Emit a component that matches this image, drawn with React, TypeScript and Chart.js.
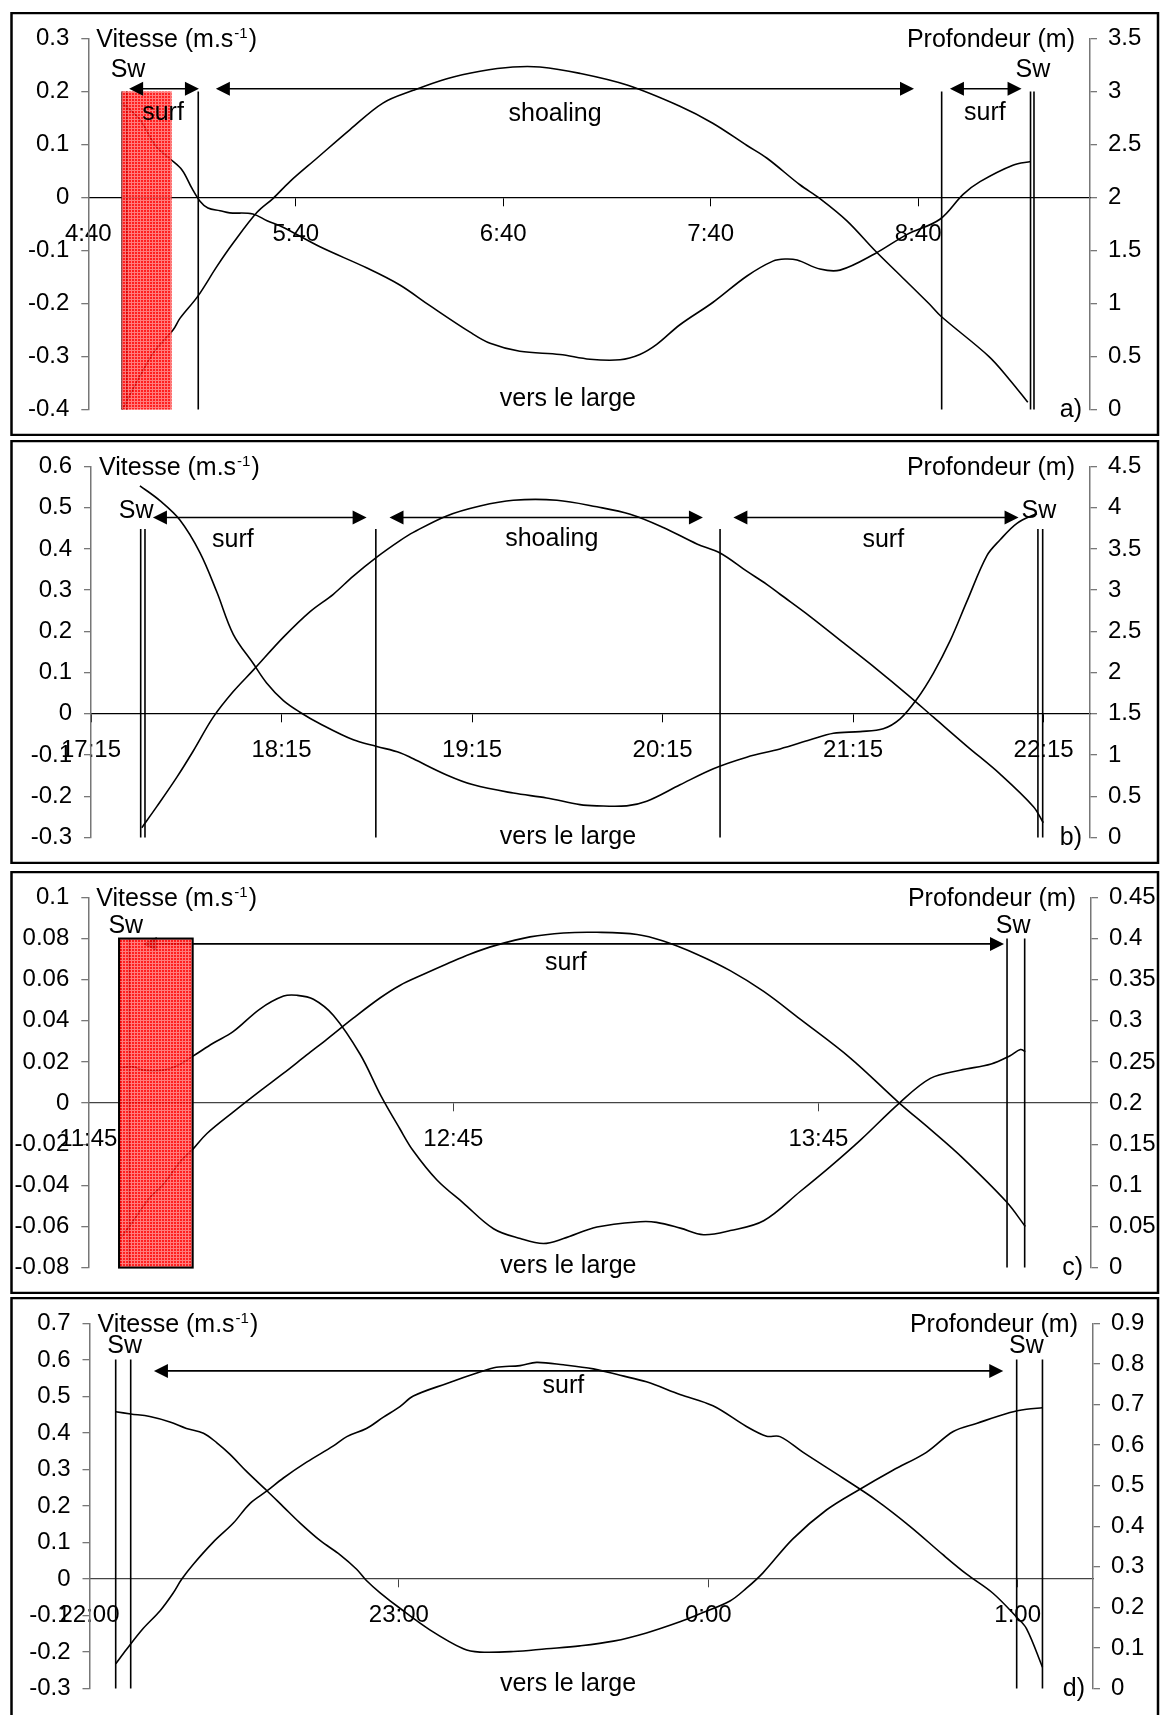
import React, { useEffect, useRef } from "react";
import { Chart, registerables } from "chart.js";

Chart.register(...registerables);

const FONT = "'Liberation Sans', Arial, Helvetica, sans-serif";

// ---------------- Panel a) ----------------
const timeLabelsA = ["4:40", "5:40", "6:40", "7:40", "8:40"];
const timeTicksA = [0, 60, 120, 180, 240];
const leftTicksA = [-0.4, -0.3, -0.2, -0.1, 0, 0.1, 0.2, 0.3];
const rightTicksA = [0, 0.5, 1, 1.5, 2, 2.5, 3, 3.5];
const tVelA = [9.8, 14.9, 19.3, 23.6, 27.1, 30.0, 32.3, 34.6, 38.1, 40.9, 47.6, 51.7, 56.3, 67.0, 80.6, 90.1, 98.8, 110.4, 116.2, 124.8, 136.4, 145.1, 153.8, 159.5, 164.4, 171.1, 180.6, 190.5, 198.0, 201.5, 205.0, 211.6, 217.4, 227.5, 236.7, 246.3, 253.0, 257.9, 267.4, 272.6];
const velA = [0.178, 0.147, 0.099, 0.073, 0.052, 0.017, -0.007, -0.02, -0.025, -0.029, -0.031, -0.044, -0.056, -0.093, -0.133, -0.165, -0.204, -0.254, -0.275, -0.29, -0.296, -0.305, -0.306, -0.296, -0.277, -0.24, -0.198, -0.148, -0.12, -0.116, -0.118, -0.135, -0.137, -0.106, -0.07, -0.041, 0.006, 0.03, 0.061, 0.068];
const tDepA = [9.8, 18.7, 24.5, 26.5, 31.7, 37.2, 41.9, 48.8, 53.4, 58.3, 66.1, 75.7, 85.2, 94.0, 103.7, 113.3, 122.8, 130.6, 142.2, 155.8, 171.1, 180.6, 190.5, 196.3, 205.8, 211.6, 219.4, 227.5, 235.0, 243.1, 246.6, 260.5, 266.5, 271.7];
const depA = [0.0, 0.53, 0.75, 0.86, 1.07, 1.35, 1.57, 1.86, 1.99, 2.15, 2.37, 2.64, 2.89, 3.01, 3.12, 3.19, 3.23, 3.23, 3.17, 3.06, 2.86, 2.7, 2.49, 2.37, 2.12, 1.99, 1.78, 1.5, 1.26, 1.0, 0.88, 0.5, 0.28, 0.07];
const vlinesA = [9.8, 11.1, 31.8, 246.8, 272.5, 273.5];
const arrowsA = [[11.8, 32.0], [36.9, 238.8], [249.2, 269.9]];
const textsA: [string, number, number][] = [["Sw", 11.5, 0.228], ["surf", 21.6, 0.147], ["shoaling", 135, 0.145], ["surf", 259.3, 0.147], ["Sw", 273.2, 0.228], ["vers le large", 138.7, -0.394]];

// ---------------- Panel b) ----------------
const timeLabelsB = ["17:15", "18:15", "19:15", "20:15", "21:15", "22:15"];
const timeTicksB = [0, 60, 120, 180, 240, 300];
const leftTicksB = [-0.3, -0.2, -0.1, 0, 0.1, 0.2, 0.3, 0.4, 0.5, 0.6];
const rightTicksB = [0, 0.5, 1, 1.5, 2, 2.5, 3, 3.5, 4, 4.5];
const tVelB = [15.4, 21.7, 28.0, 34.3, 39.6, 44.8, 51.1, 55.3, 60.6, 65.8, 72.1, 82.6, 90.0, 97.3, 101.5, 112.0, 120.4, 133.0, 143.5, 154.0, 159.3, 168.7, 175.0, 185.5, 196.0, 206.5, 217.0, 226.5, 233.8, 242.2, 249.5, 254.8, 260.1, 265.3, 270.6, 275.8, 282.1, 286.3, 291.6, 297.9];
const velB = [0.553, 0.517, 0.47, 0.391, 0.296, 0.193, 0.122, 0.075, 0.032, 0.004, -0.024, -0.063, -0.079, -0.094, -0.109, -0.148, -0.172, -0.192, -0.204, -0.22, -0.223, -0.223, -0.212, -0.172, -0.133, -0.105, -0.085, -0.063, -0.047, -0.043, -0.036, -0.012, 0.036, 0.099, 0.178, 0.272, 0.383, 0.422, 0.462, 0.486];
const tDepB = [16.0, 20.7, 27.0, 32.2, 38.5, 44.8, 51.1, 60.6, 69.0, 76.3, 82.6, 90.0, 97.3, 101.5, 112.0, 122.5, 133.0, 146.7, 159.3, 169.8, 180.2, 190.8, 198.1, 206.5, 212.8, 217.0, 226.5, 237.0, 247.5, 256.9, 265.3, 275.8, 286.3, 296.8, 299.9];
const depB = [0.12, 0.375, 0.73, 1.05, 1.46, 1.77, 2.03, 2.43, 2.74, 2.95, 3.17, 3.4, 3.6, 3.7, 3.9, 4.02, 4.09, 4.09, 4.01, 3.92, 3.76, 3.56, 3.45, 3.23, 3.07, 2.95, 2.68, 2.36, 2.04, 1.74, 1.46, 1.11, 0.77, 0.375, 0.18];
const vlinesB = [15.65, 17.0, 89.7, 198.1, 298.2, 299.7];
const arrowsB = [[19.5, 86.8], [94.0, 192.7], [202.3, 292.1]];
const textsB: [string, number, number][] = [["Sw", 14.2, 0.476], ["surf", 44.7, 0.405], ["shoaling", 145.1, 0.406], ["surf", 249.5, 0.405], ["Sw", 298.5, 0.476], ["vers le large", 150.2, -0.315]];

// ---------------- Panel c) ----------------
const timeLabelsC = ["11:45", "12:45", "13:45"];
const timeTicksC = [0, 60, 120];
const leftTicksC = [-0.08, -0.06, -0.04, -0.02, 0, 0.02, 0.04, 0.06, 0.08, 0.1];
const rightTicksC = [0, 0.05, 0.1, 0.15, 0.2, 0.25, 0.3, 0.35, 0.4, 0.45];
const tVelC = [5.5, 7.4, 9.0, 12.3, 14.5, 17.2, 20.5, 23.8, 28.2, 32.1, 34.3, 37.0, 40.3, 44.7, 48.1, 51.2, 53.4, 57.3, 61.6, 66.6, 71.0, 74.8, 78.1, 83.6, 90.7, 93.4, 97.3, 101.1, 105.5, 111.0, 117.0, 121.9, 126.9, 133.3, 138.4, 143.3, 148.4, 151.5, 153.2, 154.0];
const velC = [0.0173, 0.0176, 0.016, 0.016, 0.018, 0.0228, 0.0291, 0.0347, 0.0457, 0.052, 0.0524, 0.0505, 0.0426, 0.0236, 0.0035, -0.0125, -0.0232, -0.0374, -0.0485, -0.0611, -0.0659, -0.0683, -0.0659, -0.0603, -0.0577, -0.058, -0.0608, -0.064, -0.062, -0.0572, -0.043, -0.031, -0.018, 0.0, 0.012, 0.016, 0.019, 0.023, 0.026, 0.025];
const tDepC = [5.5, 7.4, 10.1, 12.3, 15.1, 17.2, 19.5, 23.8, 28.2, 32.1, 35.9, 39.2, 43.6, 48.0, 51.2, 55.1, 58.9, 62.7, 67.1, 72.6, 78.1, 83.6, 90.2, 94.5, 100.0, 105.5, 111.0, 117.0, 125.2, 133.3, 138.4, 143.6, 150.9, 154.0];
const depC = [0.0376, 0.057, 0.085, 0.1008, 0.1286, 0.144, 0.163, 0.189, 0.2145, 0.2363, 0.2585, 0.2775, 0.3035, 0.328, 0.343, 0.3565, 0.369, 0.381, 0.392, 0.402, 0.4068, 0.4076, 0.405, 0.397, 0.381, 0.361, 0.3357, 0.302, 0.255, 0.2, 0.168, 0.134, 0.08, 0.05];
const vlinesC = [5.2, 6.74, 151.0, 153.9];
const arrowsC = [[8.94, 150.5]];
const textsC: [string, number, number][] = [["Sw", 6.16, 0.0829], ["surf", 78.5, 0.0646], ["Sw", 152.0, 0.0829], ["vers le large", 78.9, -0.0825]];

// ---------------- Panel d) ----------------
const timeLabelsD = ["22:00", "23:00", "0:00", "1:00"];
const timeTicksD = [0, 60, 120, 180];
const leftTicksD = [-0.3, -0.2, -0.1, 0, 0.1, 0.2, 0.3, 0.4, 0.5, 0.6, 0.7];
const rightTicksD = [0, 0.1, 0.2, 0.3, 0.4, 0.5, 0.6, 0.7, 0.8, 0.9];
const tVelD = [5.1, 8.0, 11.7, 15.6, 18.8, 22.1, 24.7, 27.2, 30.5, 34.4, 37.6, 40.8, 44.7, 48.6, 51.8, 53.7, 56.3, 60.2, 66.0, 72.5, 75.7, 82.2, 88.6, 95.1, 101.6, 108.0, 114.5, 118.4, 124.2, 127.4, 130.6, 136.4, 142.9, 149.4, 155.8, 162.3, 167.5, 172.0, 178.5, 181.7, 184.8];
const velD = [0.458, 0.452, 0.445, 0.43, 0.4125, 0.3994, 0.373, 0.342, 0.294, 0.2417, 0.1977, 0.1538, 0.1057, 0.0663, 0.0268, -0.004, -0.037, -0.08, -0.139, -0.191, -0.2, -0.1985, -0.191, -0.183, -0.17, -0.1475, -0.117, -0.095, -0.06, -0.025, 0.017, 0.11, 0.189, 0.246, 0.298, 0.347, 0.404, 0.426, 0.456, 0.465, 0.469];
const tDepD = [5.1, 7.2, 10.4, 13.7, 16.2, 17.9, 20.1, 24.0, 27.9, 31.1, 34.4, 37.6, 42.1, 47.3, 49.9, 53.7, 57.0, 60.2, 62.8, 69.3, 75.7, 78.9, 83.5, 86.7, 91.9, 97.7, 102.9, 108.0, 114.5, 120.9, 127.4, 131.3, 133.9, 138.4, 146.1, 152.6, 159.1, 165.5, 170.1, 175.2, 179.8, 181.7, 184.8];
const depD = [0.0615, 0.097, 0.148, 0.192, 0.235, 0.27, 0.306, 0.361, 0.408, 0.456, 0.487, 0.519, 0.558, 0.598, 0.621, 0.641, 0.669, 0.695, 0.721, 0.752, 0.78, 0.792, 0.796, 0.804, 0.798, 0.788, 0.772, 0.756, 0.725, 0.697, 0.646, 0.622, 0.621, 0.582, 0.519, 0.464, 0.4, 0.33, 0.282, 0.235, 0.176, 0.148, 0.053];
const vlinesD = [5.08, 7.99, 179.8, 184.8];
const arrowsD = [[12.5, 177.2]];
const textsD: [string, number, number][] = [["Sw", 6.8, 0.62], ["surf", 91.9, 0.51], ["Sw", 181.7, 0.62], ["vers le large", 92.8, -0.307]];

type PanelDef = {
  letter: string;
  canvasTop: number; canvasH: number; frameTop: number; frameBottom: number;
  plotTop: number; plotBottom: number; leftPx: number; rightPx: number;
  xMax: number; timeTicks: number[]; timeLabels: string[];
  leftTicks: number[]; rightTicks: number[];
  tVel: number[]; vel: number[]; tDep: number[]; dep: number[];
  vlines: number[]; lineTop: number; arrows: number[][]; arrowY: number;
  texts: [string, number, number][];
  box: null | { x1: number; x2: number; top: number; border: boolean };
  arrowsOnTop: boolean; zeroColor: string;
};

const panels: PanelDef[] = [
  {
    letter: "a)", canvasTop: 12, canvasH: 424, frameTop: 13, frameBottom: 435,
    plotTop: 34.3, plotBottom: 412.3, leftPx: 88.3, rightPx: 1090, xMax: 289.7,
    timeTicks: timeTicksA, timeLabels: timeLabelsA, leftTicks: leftTicksA, rightTicks: rightTicksA,
    tVel: tVelA, vel: velA, tDep: tDepA, dep: depA,
    vlines: vlinesA, lineTop: 0.2, arrows: arrowsA, arrowY: 0.205, texts: textsA,
    box: { x1: 9.66, x2: 24.1, top: 0.2, border: false }, arrowsOnTop: true, zeroColor: "#000",
  },
  {
    letter: "b)", canvasTop: 440, canvasH: 424, frameTop: 441, frameBottom: 863,
    plotTop: 461.7, plotBottom: 841.7, leftPx: 91, rightPx: 1090, xMax: 314.6,
    timeTicks: timeTicksB, timeLabels: timeLabelsB, leftTicks: leftTicksB, rightTicks: rightTicksB,
    tVel: tVelB, vel: velB, tDep: tDepB, dep: depB,
    vlines: vlinesB, lineTop: 0.448, arrows: arrowsB, arrowY: 0.476, texts: textsB,
    box: null, arrowsOnTop: true, zeroColor: "#000",
  },
  {
    letter: "c)", canvasTop: 871, canvasH: 423, frameTop: 872, frameBottom: 1293,
    plotTop: 892.3, plotBottom: 1271.7, leftPx: 88.3, rightPx: 1091, xMax: 164.8,
    timeTicks: timeTicksC, timeLabels: timeLabelsC, leftTicks: leftTicksC, rightTicks: rightTicksC,
    tVel: tVelC, vel: velC, tDep: tDepC, dep: depC,
    vlines: vlinesC, lineTop: 0.08, arrows: arrowsC, arrowY: 0.0774, texts: textsC,
    box: { x1: 5.05, x2: 17.16, top: 0.08, border: true }, arrowsOnTop: false, zeroColor: "#444",
  },
  {
    letter: "d)", canvasTop: 1297, canvasH: 418, frameTop: 1298, frameBottom: 1722,
    plotTop: 1319, plotBottom: 1699.3, leftPx: 89.5, rightPx: 1093, xMax: 194.6,
    timeTicks: timeTicksD, timeLabels: timeLabelsD, leftTicks: leftTicksD, rightTicks: rightTicksD,
    tVel: tVelD, vel: velD, tDep: tDepD, dep: depD,
    vlines: vlinesD, lineTop: 0.601, arrows: arrowsD, arrowY: 0.57, texts: textsD,
    box: null, arrowsOnTop: true, zeroColor: "#444",
  },
];

const fmt = (v: number) => String(Number(v.toFixed(2)));

function redPattern(ctx: CanvasRenderingContext2D) {
  const tile = document.createElement("canvas");
  tile.width = 3; tile.height = 3;
  const t = tile.getContext("2d")!;
  t.fillStyle = "#ff0000"; t.fillRect(0, 0, 3, 3);
  t.fillStyle = "#ff6a6a"; t.fillRect(0, 2, 3, 1); t.fillRect(2, 0, 1, 3);
  return ctx.createPattern(tile, "repeat");
}

function PanelChart({ p }: { p: PanelDef }) {
  const ref = useRef<HTMLCanvasElement>(null);
  useEffect(() => {
    const canvas = ref.current!;
    const off = p.canvasTop;
    const drawArrow = (ctx: CanvasRenderingContext2D, x1: number, x2: number, y: number) => {
      const hl = 14, hw = 7;
      ctx.lineWidth = 1.6;
      ctx.beginPath(); ctx.moveTo(x1 + hl - 1, y); ctx.lineTo(x2 - hl + 1, y); ctx.stroke();
      ctx.beginPath(); ctx.moveTo(x1, y); ctx.lineTo(x1 + hl, y - hw); ctx.lineTo(x1 + hl, y + hw); ctx.closePath(); ctx.fill();
      ctx.beginPath(); ctx.moveTo(x2, y); ctx.lineTo(x2 - hl, y - hw); ctx.lineTo(x2 - hl, y + hw); ctx.closePath(); ctx.fill();
    };
    const plugin = {
      id: "annot",
      beforeDraw(chart: any) {
        const ctx = chart.ctx;
        ctx.save(); ctx.fillStyle = "#fff"; ctx.fillRect(0, 0, chart.width, chart.height); ctx.restore();
      },
      afterDatasetsDraw(chart: any) {
        const ctx: CanvasRenderingContext2D = chart.ctx;
        const xs = chart.scales.x, ys = chart.scales.y;
        const X = (v: number) => xs.getPixelForValue(v);
        const Y = (v: number) => ys.getPixelForValue(v);
        const ca = chart.chartArea;
        ctx.save();
        ctx.strokeStyle = "#000"; ctx.fillStyle = "#000"; ctx.lineWidth = 1.6;
        for (const v of p.vlines) {
          const px = X(v);
          ctx.beginPath(); ctx.moveTo(px, Y(p.lineTop)); ctx.lineTo(px, ca.bottom); ctx.stroke();
        }
        const yA = Y(p.arrowY);
        if (!p.arrowsOnTop) for (const [a, b] of p.arrows) drawArrow(ctx, X(a), X(b), yA);
        if (p.box) {
          const bx1 = X(p.box.x1), bx2 = X(p.box.x2), by = Y(p.box.top);
          ctx.save();
          ctx.globalAlpha = 0.88;
          ctx.fillStyle = redPattern(ctx) as any;
          ctx.fillRect(bx1, by, bx2 - bx1, ca.bottom - by);
          ctx.restore();
          if (p.box.border) {
            ctx.lineWidth = 2;
            ctx.strokeRect(bx1, by, bx2 - bx1, ca.bottom - by);
          }
        }
        ctx.strokeStyle = "#000"; ctx.fillStyle = "#000";
        if (p.arrowsOnTop) for (const [a, b] of p.arrows) drawArrow(ctx, X(a), X(b), yA);
        ctx.font = `25px ${FONT}`;
        ctx.textAlign = "center"; ctx.textBaseline = "alphabetic";
        for (const [txt, tx, ty] of p.texts) ctx.fillText(txt, X(tx), Y(ty));
        // axis titles
        ctx.textAlign = "left";
        let x = ca.left + 8;
        const base = ca.top + 8.5;
        ctx.fillText("Vitesse (m.s", x, base);
        x += ctx.measureText("Vitesse (m.s").width + 1;
        ctx.font = `15px ${FONT}`;
        ctx.fillText("-1", x, base - 9);
        x += ctx.measureText("-1").width + 1;
        ctx.font = `25px ${FONT}`;
        ctx.fillText(")", x, base);
        ctx.textAlign = "right";
        ctx.fillText("Profondeur (m)", ca.right - 15, base);
        ctx.fillText(p.letter, ca.right - 8, ca.bottom + 7);
        ctx.restore();
      },
      afterDraw(chart: any) {
        const ctx: CanvasRenderingContext2D = chart.ctx;
        ctx.save();
        ctx.strokeStyle = "#000"; ctx.lineWidth = 2.5;
        ctx.strokeRect(11.5, p.frameTop - off, 1146.5, p.frameBottom - p.frameTop);
        ctx.restore();
      },
    };
    const tickFont = { family: FONT, size: 24 };
    const chart = new Chart(canvas, {
      type: "line",
      data: {
        datasets: [
          {
            label: "Vitesse", yAxisID: "y",
            data: p.tVel.map((t, i) => ({ x: t, y: p.vel[i] })),
            borderColor: "#000", borderWidth: 1.6, pointRadius: 0, tension: 0.35, fill: false,
          },
          {
            label: "Profondeur", yAxisID: "y1",
            data: p.tDep.map((t, i) => ({ x: t, y: p.dep[i] })),
            borderColor: "#000", borderWidth: 1.6, pointRadius: 0, tension: 0.35, fill: false,
          },
        ],
      },
      options: {
        responsive: false,
        animation: false,
        devicePixelRatio: 1,
        events: [],
        layout: { padding: { top: p.plotTop - off, bottom: off + p.canvasH - p.plotBottom, left: 0, right: 0 } },
        plugins: { legend: { display: false }, tooltip: { enabled: false } },
        scales: {
          x: {
            type: "linear", min: 0, max: p.xMax, position: { y: 0 } as any,
            afterBuildTicks: (s: any) => { s.ticks = p.timeTicks.map((v) => ({ value: v })); },
            ticks: {
              autoSkip: false, maxRotation: 0, color: "#000", font: tickFont, padding: 14,
              callback: (_v: any, i: number) => p.timeLabels[i],
            },
            grid: { drawOnChartArea: false, drawTicks: true, tickLength: 8, color: p.zeroColor, lineWidth: 1 },
            border: { display: true, color: p.zeroColor, width: 1.3 },
          },
          y: {
            type: "linear", position: "left", min: p.leftTicks[0], max: p.leftTicks[p.leftTicks.length - 1],
            afterBuildTicks: (s: any) => { s.ticks = p.leftTicks.map((v) => ({ value: v })); },
            afterFit: (s: any) => { s.width = p.leftPx; },
            ticks: { color: "#000", font: tickFont, padding: 12, callback: (v: any) => fmt(Number(v)) },
            grid: { drawOnChartArea: false, drawTicks: true, tickLength: 7, color: "#777", lineWidth: 1.3 },
            border: { display: true, color: "#777", width: 1.5 },
          },
          y1: {
            type: "linear", position: "right", min: 0, max: p.rightTicks[p.rightTicks.length - 1],
            afterBuildTicks: (s: any) => { s.ticks = p.rightTicks.map((v) => ({ value: v })); },
            afterFit: (s: any) => { s.width = 1160 - p.rightPx; },
            ticks: { color: "#000", font: tickFont, padding: 11, callback: (v: any) => fmt(Number(v)) },
            grid: { drawOnChartArea: false, drawTicks: true, tickLength: 7, color: "#777", lineWidth: 1.3 },
            border: { display: true, color: "#777", width: 1.5 },
          },
        },
      } as any,
      plugins: [plugin],
    });
    return () => chart.destroy();
  }, [p]);
  return (
    <canvas
      ref={ref}
      width={1160}
      height={p.canvasH}
      style={{ position: "absolute", left: 0, top: p.canvasTop, width: 1160, height: p.canvasH }}
    />
  );
}

export default function App() {
  return (
    <div style={{ position: "absolute", left: 0, top: 0, width: 1160, height: 1715, background: "#fff", overflow: "hidden" }}>
      {panels.map((p, i) => (
        <PanelChart key={i} p={p} />
      ))}
    </div>
  );
}
